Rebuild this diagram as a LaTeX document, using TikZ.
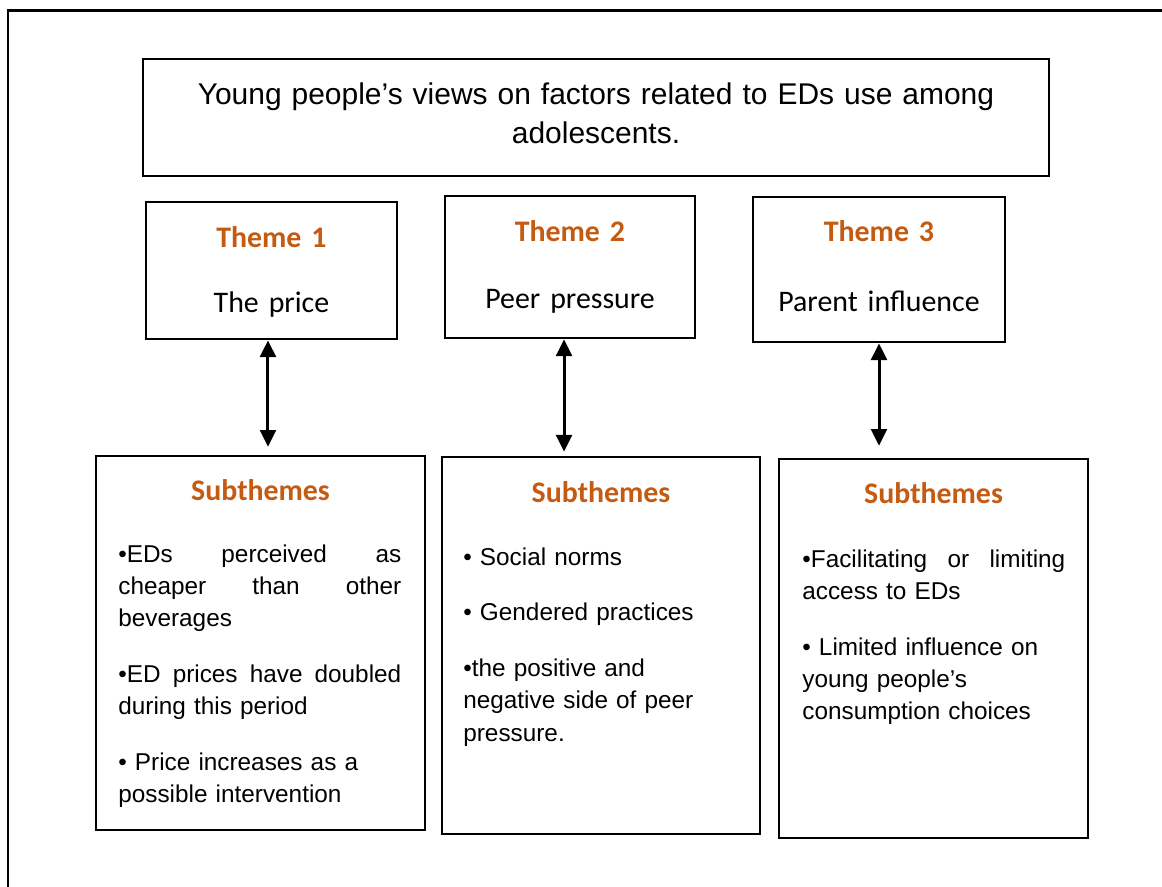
\documentclass[tikz,border=0pt]{standalone}
\usepackage{fontspec}
\setmainfont{Liberation Sans}
\newfontfamily\carlito{Carlito}
\usepackage{tikz}
\usetikzlibrary{arrows.meta}
\definecolor{themeorange}{HTML}{C55A11}

\begin{document}
\begin{tikzpicture}[x=0.02cm, y=-0.02cm,
    box/.style={draw, line width=1.6pt, inner sep=0pt},
    twoway/.style={{Triangle[length=9.5pt,width=9pt]}-{Triangle[length=9.5pt,width=9pt]}, line width=1.7pt},
    themetext/.style={font=\carlito\fontsize{17pt}{20.4pt}\selectfont, text width=4.6cm, align=center, inner sep=0pt, anchor=base},
    subhead/.style={font=\carlito\bfseries\fontsize{17pt}{20.4pt}\selectfont, text=themeorange, inner sep=0pt, anchor=base},
    itemtext/.style={font=\fontsize{13.85pt}{18.4pt}\selectfont, align=left, inner sep=0pt, anchor=base west}]

        \path[use as bounding box, clip] (0,0) rectangle (1162,886);
        \draw[line width=1.6pt] (8,10.5) rectangle (1200,920);

        \begin{scope}[every node/.style={box}]
          \node[minimum width=18.12cm, minimum height=2.34cm] (title) at (596,117.5) {};
          \node[minimum width=5.02cm, minimum height=2.74cm] (t1) at (271.5,270.5) {};
          \node[minimum width=5.00cm, minimum height=2.84cm] (t2) at (570,267)   {};
          \node[minimum width=5.04cm, minimum height=2.90cm] (t3) at (879,269.5) {};
          \node[minimum width=6.58cm, minimum height=7.48cm] (s1) at (260.5,643) {};
          \node[minimum width=6.36cm, minimum height=7.54cm] (s2) at (601,645.5) {};
          \node[minimum width=6.18cm, minimum height=7.58cm] (s3) at (933.5,648.5) {};
        \end{scope}

        \node[font=\fontsize{17.06pt}{22.7pt}\selectfont, text width=17cm, align=center, inner sep=0pt, anchor=base]
          (titletxt) at (596,104) {Young people’s views on factors related to EDs use among\\ adolescents.};

        \node[themetext] (t1txt) at (271.5,247) {\textcolor{themeorange}{\bfseries Theme 1}\\[17pt] The price};
        \node[themetext] (t2txt) at (570,241)   {\textcolor{themeorange}{\bfseries Theme 2}\\[18.1pt] Peer pressure};
        \node[themetext] (t3txt) at (879,241)   {\textcolor{themeorange}{\bfseries Theme 3}\\[19.8pt] Parent influence};

        \node[subhead] (h1) at (260.5,500) {Subthemes};
        \node[subhead] (h2) at (601,502)   {Subthemes};
        \node[subhead] (h3) at (933.5,503) {Subthemes};

        \node[itemtext, text width=5.66cm] (l1) at (118,562)
          {•EDs\hfill perceived\hfill as\\ cheaper\hfill than\hfill other\\ beverages\\[13.3pt]
           •ED\hfill prices\hfill have\hfill doubled\\ during this period\\[13.3pt]
           • Price increases as a\\ possible intervention};
        \node[itemtext, text width=5.3cm] (l2) at (463,565)
          {• Social norms\\[13.3pt]
           • Gendered practices\\[13.3pt]
           •the positive and\\ negative side of peer\\ pressure.};
        \node[itemtext, text width=5.26cm] (l3) at (802,567)
          {•Facilitating\hfill or\hfill limiting\\ access to EDs\\[13.3pt]
           • Limited influence on\\ young people’s\\ consumption choices};

        \draw[twoway, shorten >=4.5pt] ([xshift=-2pt]t1.south) -- ([xshift=-2pt]t1.south |- s1.north);
        \draw[twoway, shorten >=2.3pt] ([xshift=-3.4pt]t2.south) -- ([xshift=-3.4pt]t2.south |- s2.north);
        \draw[twoway, shorten >=6.8pt] (t3.south) -- (t3.south |- s3.north);

\end{tikzpicture}
\end{document}
